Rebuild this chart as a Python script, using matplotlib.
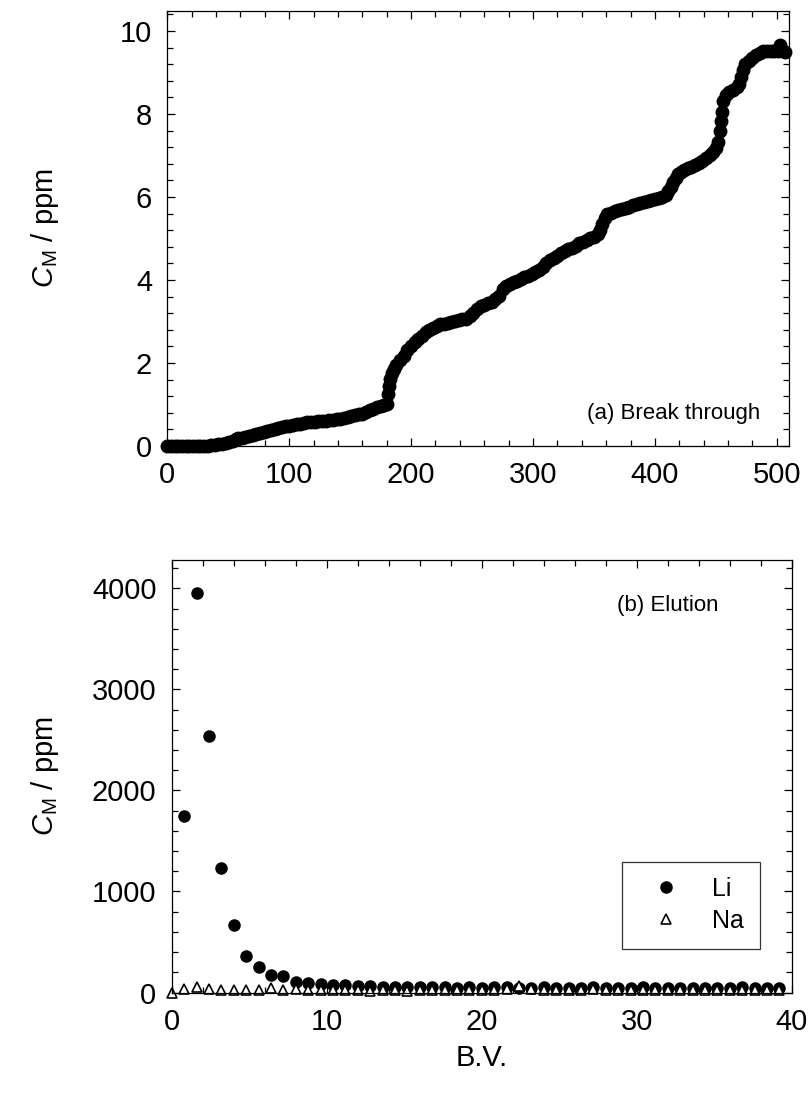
import numpy as np
import matplotlib
matplotlib.use('Agg')
import matplotlib.pyplot as plt
from matplotlib.ticker import MultipleLocator

plt.rcParams['font.family'] = ['Liberation Sans', 'DejaVu Sans']
plt.rcParams['mathtext.fontset'] = 'custom'
plt.rcParams['mathtext.rm'] = 'Liberation Sans'
plt.rcParams['mathtext.it'] = 'Liberation Sans:italic'

# (a) break through curve
bv_a = [0, 3, 6, 9, 12, 15, 18, 21, 24, 27, 30, 33, 36, 39, 42, 45, 48, 51, 54, 56,
        58, 61, 64, 67, 70, 73, 76, 79, 82, 85, 88, 91, 94, 97, 100, 103, 106, 109, 112, 115,
        118, 121, 124, 127, 130, 133, 136, 139, 142, 145, 148, 151, 154, 157, 160, 163, 166, 169, 172, 175,
        178, 180, 181, 182, 183, 184, 186, 188, 191, 194, 197, 200, 203, 206, 209, 212, 215, 218, 221, 224,
        227, 230, 233, 236, 239, 242, 245, 248, 251, 254, 257, 260, 263, 266, 269, 272, 275, 278, 281, 284,
        287, 290, 293, 296, 299, 302, 305, 308, 311, 314, 317, 320, 323, 326, 329, 332, 335, 338, 341, 344,
        347, 350, 353, 355, 357, 359, 361, 364, 367, 370, 373, 376, 379, 382, 385, 388, 391, 394, 397, 400,
        403, 406, 409, 411, 413, 415, 417, 419, 421, 424, 427, 430, 433, 436, 439, 442, 445, 448, 450, 452,
        453, 454, 455, 456, 458, 461, 464, 467, 469, 471, 472, 474, 477, 480, 483, 486, 489, 492, 495, 498,
        501, 503, 505, 507]
c_a = [0.0, 0.0, 0.0, 0.0, 0.0, 0.0, 0.0, 0.0, 0.0, 0.0, 0.01, 0.01, 0.02, 0.03, 0.04, 0.06, 0.07, 0.09, 0.12, 0.17,
       0.19, 0.20, 0.21, 0.24, 0.26, 0.29, 0.32, 0.34, 0.37, 0.39, 0.42, 0.44, 0.46, 0.48, 0.49, 0.51, 0.53, 0.54, 0.55, 0.57,
       0.58, 0.59, 0.60, 0.60, 0.61, 0.62, 0.63, 0.64, 0.66, 0.68, 0.70, 0.72, 0.74, 0.76, 0.78, 0.82, 0.86, 0.90, 0.93, 0.96,
       0.99, 1.02, 1.25, 1.45, 1.62, 1.75, 1.85, 1.95, 2.07, 2.18, 2.32, 2.40, 2.50, 2.58, 2.66, 2.75, 2.80, 2.85, 2.90, 2.93,
       2.95, 2.97, 2.99, 3.01, 3.03, 3.05, 3.07, 3.12, 3.20, 3.30, 3.37, 3.40, 3.44, 3.48, 3.54, 3.62, 3.78, 3.85, 3.90, 3.94,
       3.98, 4.02, 4.06, 4.10, 4.14, 4.18, 4.23, 4.32, 4.42, 4.48, 4.53, 4.58, 4.64, 4.70, 4.74, 4.78, 4.83, 4.88, 4.92, 4.96,
       5.00, 5.04, 5.10, 5.20, 5.35, 5.50, 5.58, 5.62, 5.65, 5.68, 5.72, 5.74, 5.77, 5.80, 5.83, 5.85, 5.88, 5.90, 5.93, 5.95,
       5.98, 6.01, 6.05, 6.15, 6.25, 6.35, 6.45, 6.55, 6.60, 6.64, 6.69, 6.73, 6.77, 6.82, 6.87, 6.93, 7.00, 7.08, 7.18, 7.32,
       7.60, 7.82, 8.05, 8.30, 8.45, 8.52, 8.58, 8.65, 8.72, 8.90, 9.05, 9.20, 9.28, 9.35, 9.42, 9.48, 9.52, 9.52, 9.52, 9.52,
       9.52, 9.66, 9.52, 9.50]

# (b) elution
bv_b = [0.0, 0.8, 1.6, 2.4, 3.2, 4.0, 4.8, 5.6, 6.4, 7.2, 8.0, 8.8, 9.6, 10.4, 11.2, 12.0, 12.8,
        13.6, 14.4, 15.2, 16.0, 16.8, 17.6, 18.4, 19.2, 20.0, 20.8, 21.6, 22.4, 23.2, 24.0, 24.8,
        25.6, 26.4, 27.2, 28.0, 28.8, 29.6, 30.4, 31.2, 32.0, 32.8, 33.6, 34.4, 35.2, 36.0, 36.8,
        37.6, 38.4, 39.2]
li = [1750, 3955, 2543, 1236, 668, 361, 256, 170, 160, 107, 91, 84, 74, 74, 69, 64,
      50, 55, 52, 55, 50, 50, 48, 55, 45, 55, 52, 48, 45, 50, 40, 45, 48, 50, 45, 42,
      45, 50, 42, 45, 40, 48, 45, 40, 42, 50, 40, 45, 42]
na = [0, 30, 50, 30, 20, 20, 20, 20, 40, 20, 30, 20, 20, 20, 20, 20, 10, 20, 20, 15,
      20, 20, 20, 20, 20, 25, 20, 30, 65, 30, 20, 20, 20, 25, 30, 20, 20, 25, 20, 20,
      20, 25, 20, 20, 25, 20, 20, 20, 20, 20]

W, H = 808, 1093
fig = plt.figure(figsize=(W / 100, H / 100), dpi=100)
ax1 = fig.add_axes([167.3 / W, 1 - 446 / H, (789 - 167.3) / W, (446 - 11) / H])
ax2 = fig.add_axes([171.7 / W, 1 - 992.5 / H, (791.7 - 171.7) / W, (992.5 - 560) / H])

fs = 21
for ax in (ax1, ax2):
    for s in ax.spines.values():
        s.set_linewidth(0.9)
    ax.tick_params(which='both', direction='in', top=True, right=True, labelsize=fs, pad=11)
    ax.tick_params(which='major', length=6, width=0.9)
    ax.tick_params(which='minor', length=4, width=0.9)

ax1.plot(bv_a, c_a, 'o', color='black', ms=9, clip_on=False)
ax1.set_xlim(0, 510)
ax1.set_ylim(0, 10.48)
ax1.xaxis.set_major_locator(MultipleLocator(100))
ax1.xaxis.set_minor_locator(MultipleLocator(20))
ax1.yaxis.set_major_locator(MultipleLocator(2))
ax1.yaxis.set_minor_locator(MultipleLocator(0.4))
ax1.set_ylabel(r'$\mathit{C}_{\mathrm{M}}$ / ppm', fontsize=fs)
ax1.yaxis.set_label_coords((61 - 167.3) / 621.7, 0.5)
ax1.text(0.953, 0.075, '(a) Break through', transform=ax1.transAxes, ha='right', va='center', fontsize=16)

ax2.plot(bv_b[1:], li, 'o', color='black', ms=8, clip_on=False, label='Li')
ax2.plot(bv_b, na, '^', mfc='white', mec='black', mew=1.2, ms=7, clip_on=False, label='Na')
ax2.set_xlim(0, 40)
ax2.set_ylim(0, 4280)
ax2.xaxis.set_major_locator(MultipleLocator(10))
ax2.xaxis.set_minor_locator(MultipleLocator(2))
ax2.yaxis.set_major_locator(MultipleLocator(1000))
ax2.yaxis.set_minor_locator(MultipleLocator(200))
ax2.set_ylabel(r'$\mathit{C}_{\mathrm{M}}$ / ppm', fontsize=fs)
ax2.yaxis.set_label_coords((61 - 171.7) / 620, 0.5)
ax2.set_xlabel('B.V.', fontsize=fs, labelpad=6)
ax2.text(0.80, 0.895, '(b) Elution', transform=ax2.transAxes, ha='center', va='center', fontsize=16)

leg = ax2.legend(loc='upper left', bbox_to_anchor=(621.7 / W, 1 - 861.7 / H), bbox_transform=fig.transFigure,
                 borderaxespad=0, frameon=True, fancybox=False, edgecolor='black', fontsize=18,
                 handlelength=2.3, handletextpad=0.7, borderpad=0.62, labelspacing=0.32)
leg.get_frame().set_linewidth(0.9)

fig.savefig('out.png', dpi=100)
